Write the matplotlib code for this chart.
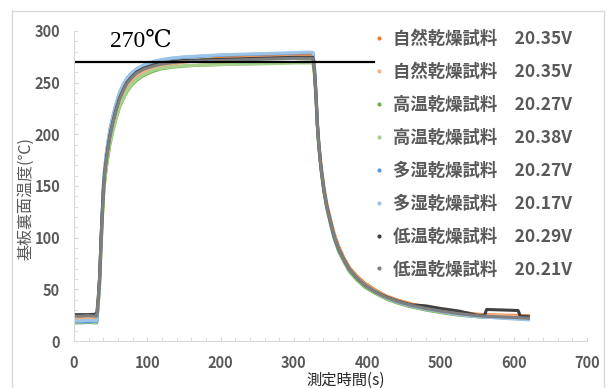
import matplotlib
matplotlib.use("Agg")
from matplotlib import pyplot as plt
from matplotlib.lines import Line2D

plt.rcParams['font.family'] = ['Noto Sans CJK JP', 'DejaVu Sans']

# 測定時間 (s)
t = [0, 10, 20, 30, 31, 33, 35, 37, 38, 40, 42, 45, 49, 53, 57, 62, 67, 72, 78, 85,
     95, 108, 120, 135, 150, 175, 200, 225, 250, 275, 300, 315, 326, 328, 330, 332,
     334, 337, 341, 345, 350, 355, 361, 368, 376, 386, 397, 410, 425, 440, 460, 480,
     500, 525, 550, 560, 563, 585, 606, 609, 620]

# 基板裏面温度 (℃) 各試料
shizen_1 = [21, 21, 21.5, 21, 21, 37, 58, 95, 110, 140, 158, 175, 193, 206, 217, 229, 238, 246,
            251, 256, 260, 264, 266, 268, 270, 272, 274, 275, 276, 276.5, 277, 277, 277, 265,
            243, 213, 193, 171, 149, 133, 118, 104, 92, 81, 71, 63, 56, 50, 44, 40, 36, 33,
            30.5, 28, 26, 25.5, 25.5, 25, 24.8, 24.6, 24.5]
shizen_2 = [22, 22, 22, 22.5, 22, 38, 60, 97, 112, 142, 160, 177, 195, 208, 219, 231, 239, 247,
            252, 257, 261, 264.5, 266.5, 268.5, 270, 271.5, 272.5, 273.5, 274, 274.5, 275, 275, 275,
            263, 241, 211, 191, 169, 147, 131, 116, 102, 90, 80, 70, 62, 55, 49, 43.5, 39.5, 35.5,
            32.5, 30, 27.5, 25.5, 25, 25, 24.5, 24, 24, 23.8]
koon_1 = [17.5, 17.5, 18, 17.5, 17.5, 34, 55, 92, 107, 138, 155, 172, 190, 203, 214, 226, 234, 241,
          247, 252, 257, 261, 263.5, 265, 266, 267, 267.5, 268, 268.5, 269, 269.5, 270, 270, 259,
          238, 208, 188, 166, 144, 128, 113, 99, 87, 77, 67, 59, 52, 46.5, 41, 37, 33, 30,
          27.5, 25, 23.5, 23, 23, 22.5, 22, 21.5, 21]
koon_2 = [18, 18, 18.5, 18, 18, 35, 56, 93, 108, 139, 156, 173, 191, 204, 215, 227, 235, 242,
          248, 253, 258, 262, 264, 265.5, 266.5, 267, 267.5, 268, 268, 268.5, 269, 269, 269, 258,
          237, 208, 188, 166, 145, 129, 114, 100, 88, 78, 68, 60, 53, 47, 41.5, 37.5, 33.5, 30.5,
          28, 25.5, 24, 23.5, 23.5, 23, 22.5, 22, 21.5]
tashitsu_1 = [18.5, 18.5, 18.5, 19, 18.5, 36, 60, 99, 116, 150, 168, 186, 204, 217, 228, 240, 248, 254,
              259, 263, 267, 270, 272, 273.5, 274.5, 275.5, 276.5, 277, 277.5, 278, 278.5, 279, 279, 266,
              243, 212, 191, 168, 146, 130, 115, 101, 89, 79, 69, 61, 54, 48, 42.5, 38, 34, 31,
              28.5, 26, 24, 23.5, 23.5, 22.5, 22, 21.5, 21]
tashitsu_2 = [19.5, 19.5, 20, 19.5, 19.5, 37, 61, 100, 117, 151, 169, 187, 205, 218, 229, 240, 248, 254,
              259, 263, 267, 270.5, 272.5, 274, 275, 276, 277, 277.5, 278, 278.5, 279, 279.5, 279.5, 266,
              243, 212, 191, 168, 146, 130, 115, 101, 89, 79, 69, 61, 54, 48, 42.5, 38, 34, 31,
              28.5, 25.5, 23.5, 23, 23, 22, 21, 21, 20.5]
teion_1 = [25.5, 25.5, 25.5, 26, 25.5, 41, 63, 101, 116, 146, 164, 181, 199, 212, 223, 235, 243, 250,
           255, 260, 264, 267, 269, 270.5, 271.5, 272, 272.5, 273, 273.5, 274, 274.5, 274.5, 274.5, 262,
           240, 210, 190, 168, 146, 130, 115, 101, 89, 79, 69, 61, 54, 48, 43, 39, 35, 34,
           31.5, 29, 25, 24.5, 30.5, 30, 29.5, 24, 23.5]
teion_2 = [24, 24, 24.5, 24, 24, 40, 62, 100, 115, 145, 163, 180, 198, 211, 222, 234, 242, 249,
           254, 259, 263, 266, 268, 269.5, 270.5, 271, 271.5, 272, 272.5, 273, 273.5, 273.5, 273.5, 262,
           240, 210, 190, 168, 146, 130, 115, 101, 89, 79, 69, 61, 54, 48, 42.5, 38.5, 34.5, 31.5,
           29, 26.5, 24.5, 24, 23.9, 23.2, 22.6, 22.5, 22]

series = [shizen_1, shizen_2, koon_1, koon_2, tashitsu_1, tashitsu_2, teion_1, teion_2]
labels = ["自然乾燥試料　20.35V", "自然乾燥試料　20.35V", "高温乾燥試料　20.27V",
          "高温乾燥試料　20.38V", "多湿乾燥試料　20.27V", "多湿乾燥試料　20.17V",
          "低温乾燥試料　20.29V", "低温乾燥試料　20.21V"]
colors = ["#ED7D31", "#F4B183", "#70AD47", "#A9D18E", "#5B9BD5", "#9DC3E6", "#404040", "#7F7F7F"]

target_temp = 270
target_end = 410

W, H = 610, 388
fig = plt.figure(figsize=(W / 100, H / 100), dpi=100)
ax = fig.add_axes([74 / W, 1 - 341 / H, (587 - 74) / W, (341 - 31) / H])

for vals, c in zip(series, colors):
    ax.plot(t, vals, color=c, lw=2.2, solid_joinstyle="round")

ax.plot([0, target_end], [target_temp, target_temp], color="black", lw=1.6)
ax.text(49, 284.5, "270℃", fontsize=17, family=["Liberation Serif", "DejaVu Serif"],
        color="black", ha="left", va="baseline")

ax.set_xlim(0, 700)
ax.set_ylim(0, 300)
ax.set_xticks(range(0, 701, 100))
ax.set_yticks(range(0, 301, 50))
ax.set_xticks(range(0, 701, 20), minor=True)
ax.set_yticks(range(0, 301, 10), minor=True)
for s in ["top", "right"]:
    ax.spines[s].set_visible(False)
for s in ["left", "bottom"]:
    ax.spines[s].set_color("#D9D9D9")
ax.tick_params(which="both", direction="in", length=3, color="#D9D9D9")
ax.tick_params(which="major", labelsize=10.5, labelcolor="#595959", pad=10)
for lab in ax.get_xticklabels() + ax.get_yticklabels():
    lab.set_fontweight("bold")

fig.text(26 / W, 1 - 198 / H, "基板裏面温度(℃)", rotation=90, ha="center", va="center",
         fontsize=11.5, color="#595959")
fig.text(346 / W, 1 - 380 / H, "測定時間(s)", ha="center", va="center",
         fontsize=11, color="#262626")

handles = [Line2D([], [], ls="", marker="o", ms=3, mew=0, color=c) for c in colors]
leg = ax.legend(handles, labels, loc="upper left", bbox_to_anchor=(374 / W, 1 - 30 / H),
                bbox_transform=fig.transFigure, frameon=False, borderpad=0, borderaxespad=0,
                handlelength=0.6, handletextpad=0.5, labelspacing=0.86,
                prop={"size": 12.5, "weight": "bold"})
for txt in leg.get_texts():
    txt.set_color("#595959")

# 外枠
frame = dict(color="#D9D9D9", lw=1, transform=fig.transFigure)
fig.add_artist(Line2D([12 / W, 12 / W], [0, 1 - 11 / H], **frame))
fig.add_artist(Line2D([12 / W, 604 / W], [1 - 11 / H, 1 - 11 / H], **frame))
fig.add_artist(Line2D([604 / W, 604 / W], [0, 1 - 11 / H], **frame))

fig.savefig("out.png", dpi=100)
